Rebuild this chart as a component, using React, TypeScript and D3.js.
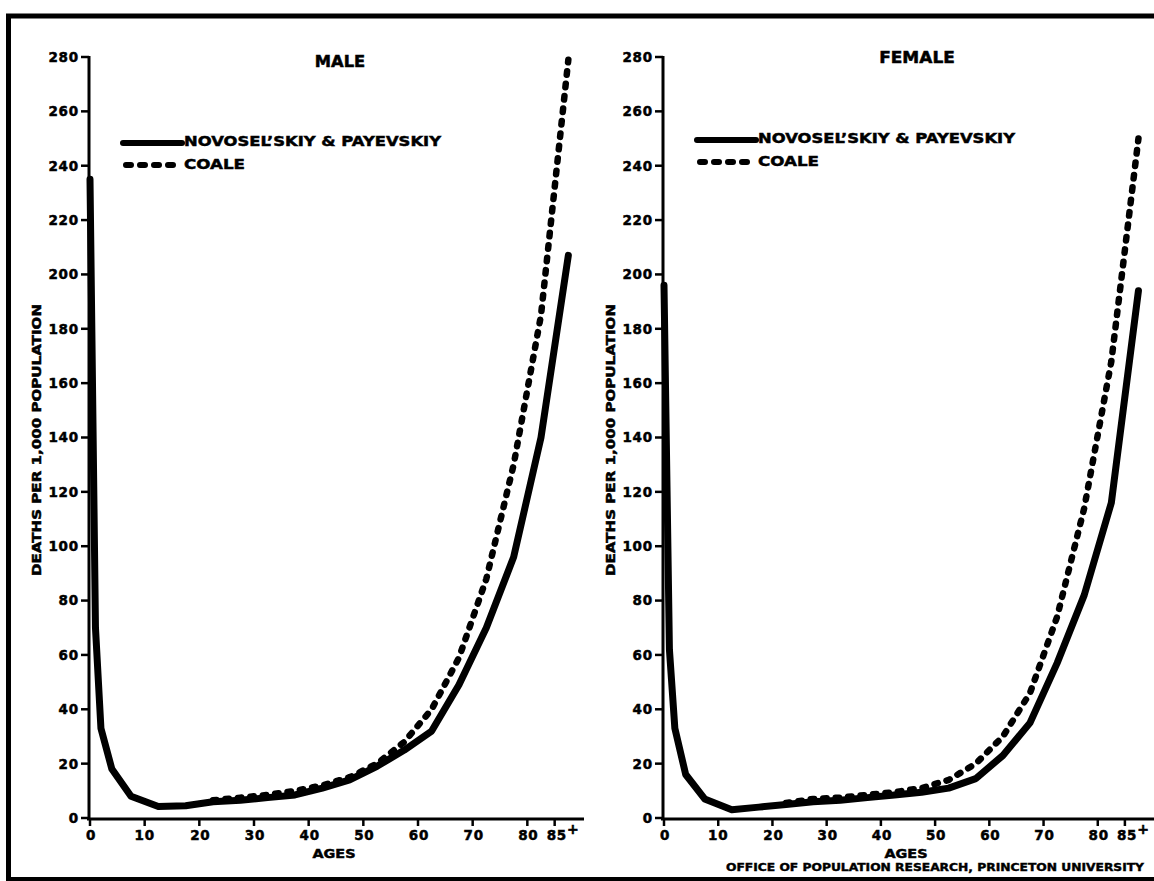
import * as d3 from "d3";

// age points (5-year groups plotted at midpoints, 85+ at 87.5)
const NP_AGES = [0, 1, 2, 4, 7.5, 12.5, 17.5, 22.5, 27.5, 32.5, 37.5, 42.5, 47.5, 52.5, 57.5, 62.5, 67.5, 72.5, 77.5, 82.5, 87.5];
const MALE_NP = [235, 70, 33, 18, 8, 4.2, 4.5, 6, 6.5, 7.5, 8.5, 11, 14, 19, 25, 32, 49, 70, 96, 140, 207];
const FEMALE_NP = [196, 62, 33, 16, 7, 3, 4, 5, 6, 6.5, 7.5, 8.5, 9.5, 11, 14.5, 23, 35, 57, 82, 116, 194];

const COALE_AGES = [22.5, 27.5, 32.5, 37.5, 42.5, 47.5, 52.5, 57.5, 62.5, 67.5, 72.5, 77.5, 82.5, 87.5];
const MALE_COALE = [6.5, 7.5, 8.5, 10, 12, 15, 20, 28, 40, 59, 88, 130, 185, 279];
const FEMALE_COALE = [5.5, 7, 7.5, 8.5, 9.5, 11, 14, 20, 30, 46, 74, 114, 168, 250];

const Y_TICKS = d3.range(0, 281, 20);
const X_TICKS = [0, 10, 20, 30, 40, 50, 60, 70, 80];

const FONT = "'DejaVu Sans', sans-serif";

interface PanelProps {
  title: string;
  titleX: number;
  titleY: number;
  x0: number;
  x1: number;
  axisEnd: number;
  np: number[];
  coale: number[];
  ylabelX: number;
  legendDy: number;
}

function Panel(p: PanelProps) {
  const x = d3.scaleLinear().domain([0, 90]).range([p.x0, p.x1]);
  const y = d3.scaleLinear().domain([0, 280]).range([818, 57]);
  const line = d3
    .line<[number, number]>()
    .x((d) => x(d[0]))
    .y((d) => y(d[1]));
  const npPts = NP_AGES.map((a, i) => [a, p.np[i]] as [number, number]);
  const coPts = COALE_AGES.map((a, i) => [a, p.coale[i]] as [number, number]);
  const ax = x(0) - 1;
  const lx = ax + 34;
  const ly = 143 + p.legendDy;

  return (
    <g fontFamily={FONT} fontWeight="bold" fill="#000" stroke="#000" strokeWidth={0.5}>
      {/* axes */}
      <line x1={ax} x2={ax} y1={56} y2={820} strokeWidth={3} />
      <line x1={ax - 2} x2={p.axisEnd} y1={819} y2={819} strokeWidth={3} />
      {Y_TICKS.map((t) => (
        <g key={t}>
          <line x1={ax - 8} x2={ax} y1={y(t)} y2={y(t)} strokeWidth={2.5} />
          <text x={ax - 10} y={y(t)} dy="0.36em" textAnchor="end" fontSize={13.5} letterSpacing={0.8}>
            {t}
          </text>
        </g>
      ))}
      {X_TICKS.map((t) => (
        <g key={t}>
          <line x1={x(t)} x2={x(t)} y1={819} y2={826} strokeWidth={2.5} />
          <text x={x(t) + (t === 10 ? 0 : 1)} y={835} dy="0.36em" textAnchor="middle" fontSize={13.5} letterSpacing={0.8}>
            {t}
          </text>
        </g>
      ))}
      <line x1={x(85)} x2={x(85)} y1={819} y2={826} strokeWidth={2.5} />
      <text x={x(85) - 8} y={835} dy="0.36em" fontSize={13.5} letterSpacing={0.8}>
        85
        <tspan dy={-6} fontSize={14}>+</tspan>
      </text>

      {/* axis titles */}
      <text x={x(45) - 2} y={853} dy="0.36em" textAnchor="middle" fontSize={12.5} textLength={43} lengthAdjust="spacingAndGlyphs">
        AGES
      </text>
      <text
        transform={`translate(${p.ylabelX},440) rotate(-90)`}
        dy="0.36em"
        textAnchor="middle"
        fontSize={12}
        textLength={272}
        lengthAdjust="spacingAndGlyphs"
      >
        DEATHS PER 1,000 POPULATION
      </text>

      <text x={p.titleX} y={p.titleY} dy="0.36em" textAnchor="middle" fontSize={15} textLength={p.title.length * 12.6} lengthAdjust="spacingAndGlyphs">
        {p.title}
      </text>

      {/* legend */}
      <line x1={lx} x2={lx + 59} y1={ly} y2={ly} strokeWidth={6} strokeLinecap="round" />
      <text x={lx + 61} y={ly - 2} dy="0.36em" fontSize={14.5} textLength={257} lengthAdjust="spacingAndGlyphs">
        NOVOSEL’SKIY &amp; PAYEVSKIY
      </text>
      <line x1={lx + 3} x2={lx + 56} y1={ly + 22} y2={ly + 22} strokeWidth={6} strokeLinecap="round" strokeDasharray="5 9" />
      <text x={lx + 61} y={ly + 21} dy="0.36em" fontSize={14.5} textLength={61} lengthAdjust="spacingAndGlyphs">
        COALE
      </text>

      {/* curves */}
      <path d={line(coPts) ?? ""} fill="none" strokeWidth={6.5} strokeLinecap="round" strokeDasharray="3.5 9" />
      <path d={line(npPts) ?? ""} fill="none" strokeWidth={7} strokeLinejoin="round" strokeLinecap="round" />
    </g>
  );
}

export default function App() {
  const W = 1154;
  const H = 881;
  return (
    <div style={{ position: "fixed", left: 0, top: 0, width: W, height: H, background: "#fff" }}>
      <svg width={W} height={H} style={{ display: "block" }}>
        <rect width={W} height={H} fill="#fff" />
        {/* frame */}
        <line x1={6} x2={W} y1={16} y2={16} stroke="#000" strokeWidth={5} />
        <line x1={8.5} x2={8.5} y1={14} y2={H} stroke="#000" strokeWidth={5} />
        <line x1={6} x2={W} y1={879} y2={879} stroke="#000" strokeWidth={4} />

        <Panel
          title="MALE"
          titleX={340}
          titleY={62}
          x0={90}
          x1={582}
          axisEnd={584}
          np={MALE_NP}
          coale={MALE_COALE}
          ylabelX={37}
          legendDy={0}
        />
        <Panel
          title="FEMALE"
          titleX={917}
          titleY={58}
          x0={664}
          x1={1152}
          axisEnd={W}
          np={FEMALE_NP}
          coale={FEMALE_COALE}
          ylabelX={611}
          legendDy={-3}
        />

        <text
          x={726}
          y={867}
          dy="0.36em"
          fontFamily={FONT}
          fontWeight="bold"
          fontSize={10}
          stroke="#000"
          strokeWidth={0.4}
          textLength={418}
          lengthAdjust="spacingAndGlyphs"
        >
          OFFICE OF POPULATION RESEARCH, PRINCETON UNIVERSITY
        </text>
      </svg>
    </div>
  );
}
